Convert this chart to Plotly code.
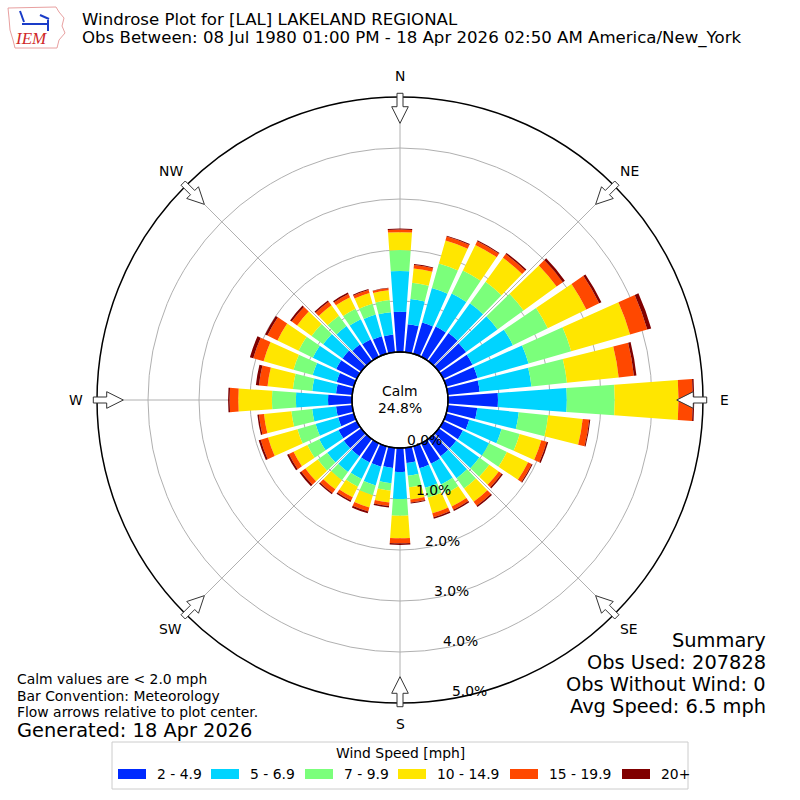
import math
import plotly.graph_objects as go

# ---------------- data ----------------
directions = list(range(0, 360, 10))
speed_labels = ["2 - 4.9", "5 - 6.9", "7 - 9.9", "10 - 14.9", "15 - 19.9", "20+"]
colors = ["#002aff", "#00d4ff", "#7bff7b", "#ffe600", "#ff4800", "#800000"]

# percent of observations per direction (0,10,...,350) for each speed class
pct_2_5 = [0.79, 0.55, 0.64, 0.66, 0.68, 0.66, 0.64, 0.64, 0.63, 0.98, 0.58, 0.47,
           0.43, 0.42, 0.42, 0.45, 0.45, 0.30, 0.47, 0.40, 0.42, 0.42, 0.42, 0.42,
           0.40, 0.32, 0.32, 0.47, 0.32, 0.35, 0.45, 0.45, 0.40, 0.38, 0.36, 0.35]
pct_5_7 = [0.80, 0.50, 0.70, 0.72, 0.72, 0.76, 0.88, 1.04, 1.02, 1.35, 0.82, 0.66,
           0.57, 0.56, 0.53, 0.45, 0.40, 0.25, 0.53, 0.30, 0.38, 0.36, 0.38, 0.40,
           0.42, 0.46, 0.47, 0.63, 0.47, 0.49, 0.51, 0.47, 0.45, 0.44, 0.44, 0.44]
pct_7_10 = [0.41, 0.32, 0.50, 0.50, 0.52, 0.63, 0.76, 0.87, 0.70, 0.94, 0.58, 0.37,
            0.39, 0.24, 0.25, 0.20, 0.20, 0.23, 0.33, 0.15, 0.20, 0.17, 0.20, 0.23,
            0.26, 0.37, 0.41, 0.47, 0.38, 0.39, 0.31, 0.28, 0.25, 0.23, 0.22, 0.24]
pct_10_15 = [0.35, 0.28, 0.47, 0.56, 0.58, 0.80, 0.84, 1.20, 1.02, 1.25, 0.68, 0.44,
             0.46, 0.23, 0.32, 0.28, 0.32, 0.24, 0.44, 0.23, 0.25, 0.23, 0.22, 0.30,
             0.30, 0.60, 0.54, 0.66, 0.50, 0.61, 0.46, 0.35, 0.25, 0.25, 0.22, 0.19]
pct_15_20 = [0.05, 0.07, 0.08, 0.08, 0.09, 0.15, 0.28, 0.35, 0.30, 0.28, 0.13, 0.11,
             0.08, 0.07, 0.10, 0.07, 0.08, 0.06, 0.10, 0.07, 0.08, 0.07, 0.09, 0.10,
             0.10, 0.15, 0.10, 0.17, 0.17, 0.21, 0.22, 0.13, 0.09, 0.07, 0.06, 0.04]
pct_20p = [0.02, 0.02, 0.02, 0.02, 0.03, 0.05, 0.05, 0.08, 0.05, 0.03, 0.02, 0.03,
           0.02, 0.03, 0.03, 0.03, 0.03, 0.02, 0.03, 0.03, 0.04, 0.03, 0.03, 0.04,
           0.04, 0.04, 0.03, 0.03, 0.06, 0.07, 0.05, 0.04, 0.03, 0.03, 0.02, 0.01]
series = [pct_2_5, pct_5_7, pct_7_10, pct_10_15, pct_15_20, pct_20p]

radial_ticks = [0, 1, 2, 3, 4, 5]
compass_angles = [0, 45, 90, 135, 180, 225, 270, 315]
compass_labels = ["N", "NE", "E", "SE", "S", "SW", "W", "NW"]
calm_pct = 24.8

title_lines = ["Windrose Plot for [LAL] LAKELAND REGIONAL",
               "Obs Between: 08 Jul 1980 01:00 PM - 18 Apr 2026 02:50 AM America/New_York"]
summary_lines = ["Summary", "Obs Used: 207828", "Obs Without Wind: 0", "Avg Speed: 6.5 mph"]
notes_lines = ["Calm values are < 2.0 mph", "Bar Convention: Meteorology",
               "Flow arrows relative to plot center."]
generated = "Generated: 18 Apr 2026"

# ---------------- geometry (pixels) ----------------
W = H = 800
CX, CY = 400, 400
R_OUT = 303
R_HOLE = 48
RMAX = 5.0
FONT = "DejaVu Sans"
FS = 13.9


def px(x):
    return x / W


def py(y):
    return 1 - y / H


def rpx(v):
    return R_HOLE + (R_OUT - R_HOLE) * v / RMAX


fig = go.Figure()
for vals, lab, col in zip(series, speed_labels, colors):
    fig.add_trace(go.Barpolar(
        r=vals, theta=directions, name=lab, width=8.2,
        marker=dict(color=col, line=dict(width=0)),
    ))

shapes = []
annotations = []


def text(x, y, s, size=FS, anchor="center", family=FONT, color="black"):
    annotations.append(dict(x=px(x), y=py(y), xref="paper", yref="paper", text=s,
                            showarrow=False, xanchor=anchor, yanchor="middle",
                            font=dict(family=family, size=size, color=color)))


# calm circle
shapes.append(dict(type="circle", xref="paper", yref="paper",
                   x0=px(CX - R_HOLE), x1=px(CX + R_HOLE),
                   y0=py(CY + R_HOLE), y1=py(CY - R_HOLE),
                   line=dict(color="black", width=1.3), layer="above"))

# flow arrows
R1, R2, R3 = 306.7, 293.3, 276.7
w1, w2 = 3.0, 8.3
for a in compass_angles:
    t = math.radians(a)
    ux, uy = math.sin(t), -math.cos(t)
    qx, qy = math.cos(t), math.sin(t)
    pts = [
        (CX + R1 * ux + w1 * qx, CY + R1 * uy + w1 * qy),
        (CX + R2 * ux + w1 * qx, CY + R2 * uy + w1 * qy),
        (CX + R2 * ux + w2 * qx, CY + R2 * uy + w2 * qy),
        (CX + R3 * ux, CY + R3 * uy),
        (CX + R2 * ux - w2 * qx, CY + R2 * uy - w2 * qy),
        (CX + R2 * ux - w1 * qx, CY + R2 * uy - w1 * qy),
        (CX + R1 * ux - w1 * qx, CY + R1 * uy - w1 * qy),
    ]
    path = "M " + " L ".join(f"{px(x):.5f},{py(y):.5f}" for x, y in pts) + " Z"
    shapes.append(dict(type="path", xref="paper", yref="paper", path=path,
                       fillcolor="white", line=dict(color="#333333", width=1), layer="above"))

# compass labels
for a, lab in zip(compass_angles, compass_labels):
    t = math.radians(a)
    text(CX + 324 * math.sin(t), CY - 324 * math.cos(t), lab)

# radial tick labels
for v in radial_ticks:
    r = rpx(v)
    text(CX + r * math.sin(math.radians(10)) + 16.5,
         CY + r * math.cos(math.radians(10)) - 7, f"{v:.1f}%")

# calm text
text(400, 391, "Calm")
text(400, 408, f"{calm_pct:.1f}%")

# titles
for i, line in enumerate(title_lines):
    text(80, 19 + 19 * i, line, size=16.6, anchor="left")

# summary
for i, line in enumerate(summary_lines):
    text(768, 640 + 22 * i, line, size=19.4, anchor="right")

# notes
for i, line in enumerate(notes_lines):
    text(15, 679 + 16.5 * i, line, anchor="left")
text(15, 730, generated, size=19.4, anchor="left")

# legend (manual)
shapes.append(dict(type="rect", xref="paper", yref="paper",
                   x0=px(112), x1=px(688), y0=py(789), y1=py(742),
                   fillcolor="white", line=dict(color="#cccccc", width=1), layer="above"))
text(400, 753, "Wind Speed [mph]")
patch_x = [118, 211, 305, 398, 510, 622]
for x0, lab, col in zip(patch_x, speed_labels, colors):
    shapes.append(dict(type="rect", xref="paper", yref="paper",
                       x0=px(x0), x1=px(x0 + 28), y0=py(779), y1=py(769),
                       fillcolor=col, line=dict(width=0), layer="above"))
    text(x0 + 37, 774, lab, anchor="left")

# IEM logo (approximation)
iowa = [(8, 8), (56, 7), (59, 12), (64, 18), (62, 26), (65, 33), (59, 40), (57, 48),
        (15, 48), (13, 40), (10, 30), (9, 18)]
shapes.append(dict(type="path", xref="paper", yref="paper",
                   path="M " + " L ".join(f"{px(x):.5f},{py(y):.5f}" for x, y in iowa) + " Z",
                   line=dict(color="#e8a0a0", width=1), fillcolor="rgba(0,0,0,0)", layer="above"))
for (x0, y0, x1, y1) in [(22, 24, 48, 24), (48, 20, 48, 31), (40, 15, 49, 19), (20, 11, 24, 22)]:
    shapes.append(dict(type="line", xref="paper", yref="paper",
                       x0=px(x0), y0=py(y0), x1=px(x1), y1=py(y1),
                       line=dict(color="#1a3cc8", width=2), layer="above"))
text(31, 39, "<i>IEM</i>", size=17, family="Liberation Serif", color="#d02828")

fig.update_layout(
    width=W, height=H,
    margin=dict(l=0, r=0, t=0, b=0),
    paper_bgcolor="white",
    showlegend=False,
    shapes=shapes,
    annotations=annotations,
    polar=dict(
        domain=dict(x=[px(CX - R_OUT), px(CX + R_OUT)], y=[px(CY - R_OUT), px(CY + R_OUT)]),
        hole=R_HOLE / R_OUT,
        bgcolor="white",
        barmode="stack",
        radialaxis=dict(range=[0, RMAX], tickvals=radial_ticks[1:], showticklabels=False,
                        ticks="", showline=False, gridcolor="#b0b0b0", gridwidth=1,
                        layer="above traces"),
        angularaxis=dict(rotation=90, direction="clockwise", tickmode="array",
                         tickvals=compass_angles, showticklabels=False, ticks="",
                         gridcolor="#b0b0b0", gridwidth=1, showline=True,
                         linecolor="black", linewidth=1.5, layer="above traces"),
    ),
)

fig.write_html("out.html")
